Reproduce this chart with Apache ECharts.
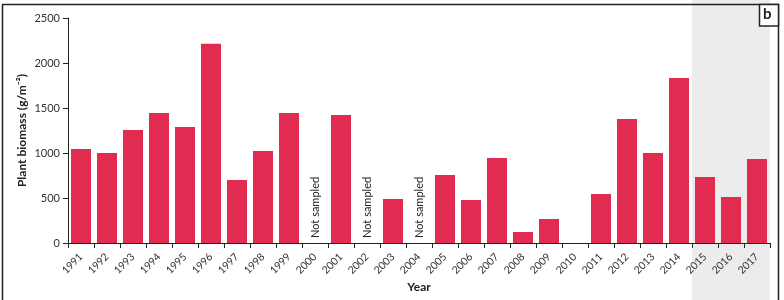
<!DOCTYPE html>
<html>
<head>
<meta charset="utf-8">
<script src="https://cdn.jsdelivr.net/npm/echarts@6/dist/echarts.min.js"></script>
<style>
  html, body { margin: 0; padding: 0; background: #fff; }
  #main { width: 784px; height: 300px; }
</style>
</head>
<body>
<div id="main"></div>
<script>
var years = ['1991', '1992', '1993', '1994', '1995', '1996', '1997', '1998', '1999', '2000',
    '2001', '2002', '2003', '2004', '2005', '2006', '2007', '2008', '2009', '2010',
    '2011', '2012', '2013', '2014', '2015', '2016', '2017'];
// null = not sampled
var biomass = [1045, 1000, 1255, 1445, 1290, 2215, 700, 1022, 1445, null,
    1422, null, 490, null, 755, 478, 945, 122, 267, 0,
    545, 1378, 1000, 1833, 733, 511, 933];
var notSampledLabel = 'Not sampled';
var shadedYears = ['2015', '2017'];

var chartDom = document.getElementById('main');
var myChart = echarts.init(chartDom);
var font = 'Lato';

var seriesData = biomass.map(function (v) {
    if (v === null) {
        return {
            value: 0,
            label: {
                show: true,
                formatter: notSampledLabel,
                position: 'top',
                rotate: 90,
                align: 'left',
                verticalAlign: 'middle',
                distance: 5,
                fontSize: 11,
                fontFamily: font,
                color: '#222'
            }
        };
    }
    return v;
});

var option = {
    animation: false,
    grid: { left: 68, right: 14, top: 18, bottom: 57, outerBoundsMode: 'none' },
    xAxis: {
        type: 'category',
        data: years,
        name: 'Year',
        nameLocation: 'middle',
        nameGap: 38,
        nameMoveOverlap: false,
        nameTextStyle: { fontFamily: font, fontSize: 12, fontWeight: 'bold', color: '#222' },
        axisLine: { lineStyle: { color: '#222', width: 1 } },
        axisTick: { show: true, length: 5, lineStyle: { color: '#222' } },
        axisLabel: { rotate: 45, fontSize: 10.5, fontFamily: font, color: '#333', margin: 12, interval: 0 }
    },
    yAxis: {
        type: 'value',
        min: 0,
        max: 2500,
        interval: 500,
        name: 'Plant biomass (g/m⁻²)',
        nameLocation: 'middle',
        nameGap: 40,
        nameMoveOverlap: false,
        nameTextStyle: { fontFamily: font, fontSize: 12, fontWeight: 'bold', color: '#222' },
        axisLine: { show: true, lineStyle: { color: '#222', width: 1 } },
        axisTick: { show: true, length: 5, lineStyle: { color: '#222' } },
        axisLabel: {
            fontSize: 11, fontFamily: font, color: '#333', margin: 8,
            formatter: function (v) { return String(v); }
        },
        splitLine: { show: false }
    },
    series: [{
        type: 'bar',
        data: seriesData,
        barCategoryGap: '23%',
        itemStyle: { color: '#e22b50' }
    }]
};

myChart.setOption(option);

// grey band behind the last years, frame and panel letter
var p0 = myChart.convertToPixel({ xAxisIndex: 0 }, shadedYears[0]);
var p1 = myChart.convertToPixel({ xAxisIndex: 0 }, shadedYears[1]);
var p2 = myChart.convertToPixel({ xAxisIndex: 0 }, years[1]);
var halfBand = (p2 - myChart.convertToPixel({ xAxisIndex: 0 }, years[0])) / 2;

myChart.setOption({
    graphic: [
        {
            type: 'rect',
            z: -10,
            silent: true,
            shape: { x: p0 - halfBand, y: 0, width: (p1 + halfBand) - (p0 - halfBand), height: 300 },
            style: { fill: '#ececec' }
        },
        {
            type: 'rect',
            z: 10,
            silent: true,
            shape: { x: 2.5, y: 4.5, width: 776, height: 320 },
            style: { fill: 'none', stroke: '#222', lineWidth: 1.5 }
        },
        {
            type: 'rect',
            z: 10,
            silent: true,
            shape: { x: 759.5, y: 4.5, width: 19, height: 21.5 },
            style: { fill: '#fff', stroke: '#222', lineWidth: 1.5 }
        },
        {
            type: 'text',
            z: 11,
            left: 763,
            top: 7,
            style: { text: 'b', fontFamily: font, fontSize: 15, fontWeight: 'bold', fill: '#222' }
        }
    ]
});

window.addEventListener('resize', function () {
    myChart.resize();
});
</script>
</body>
</html>
